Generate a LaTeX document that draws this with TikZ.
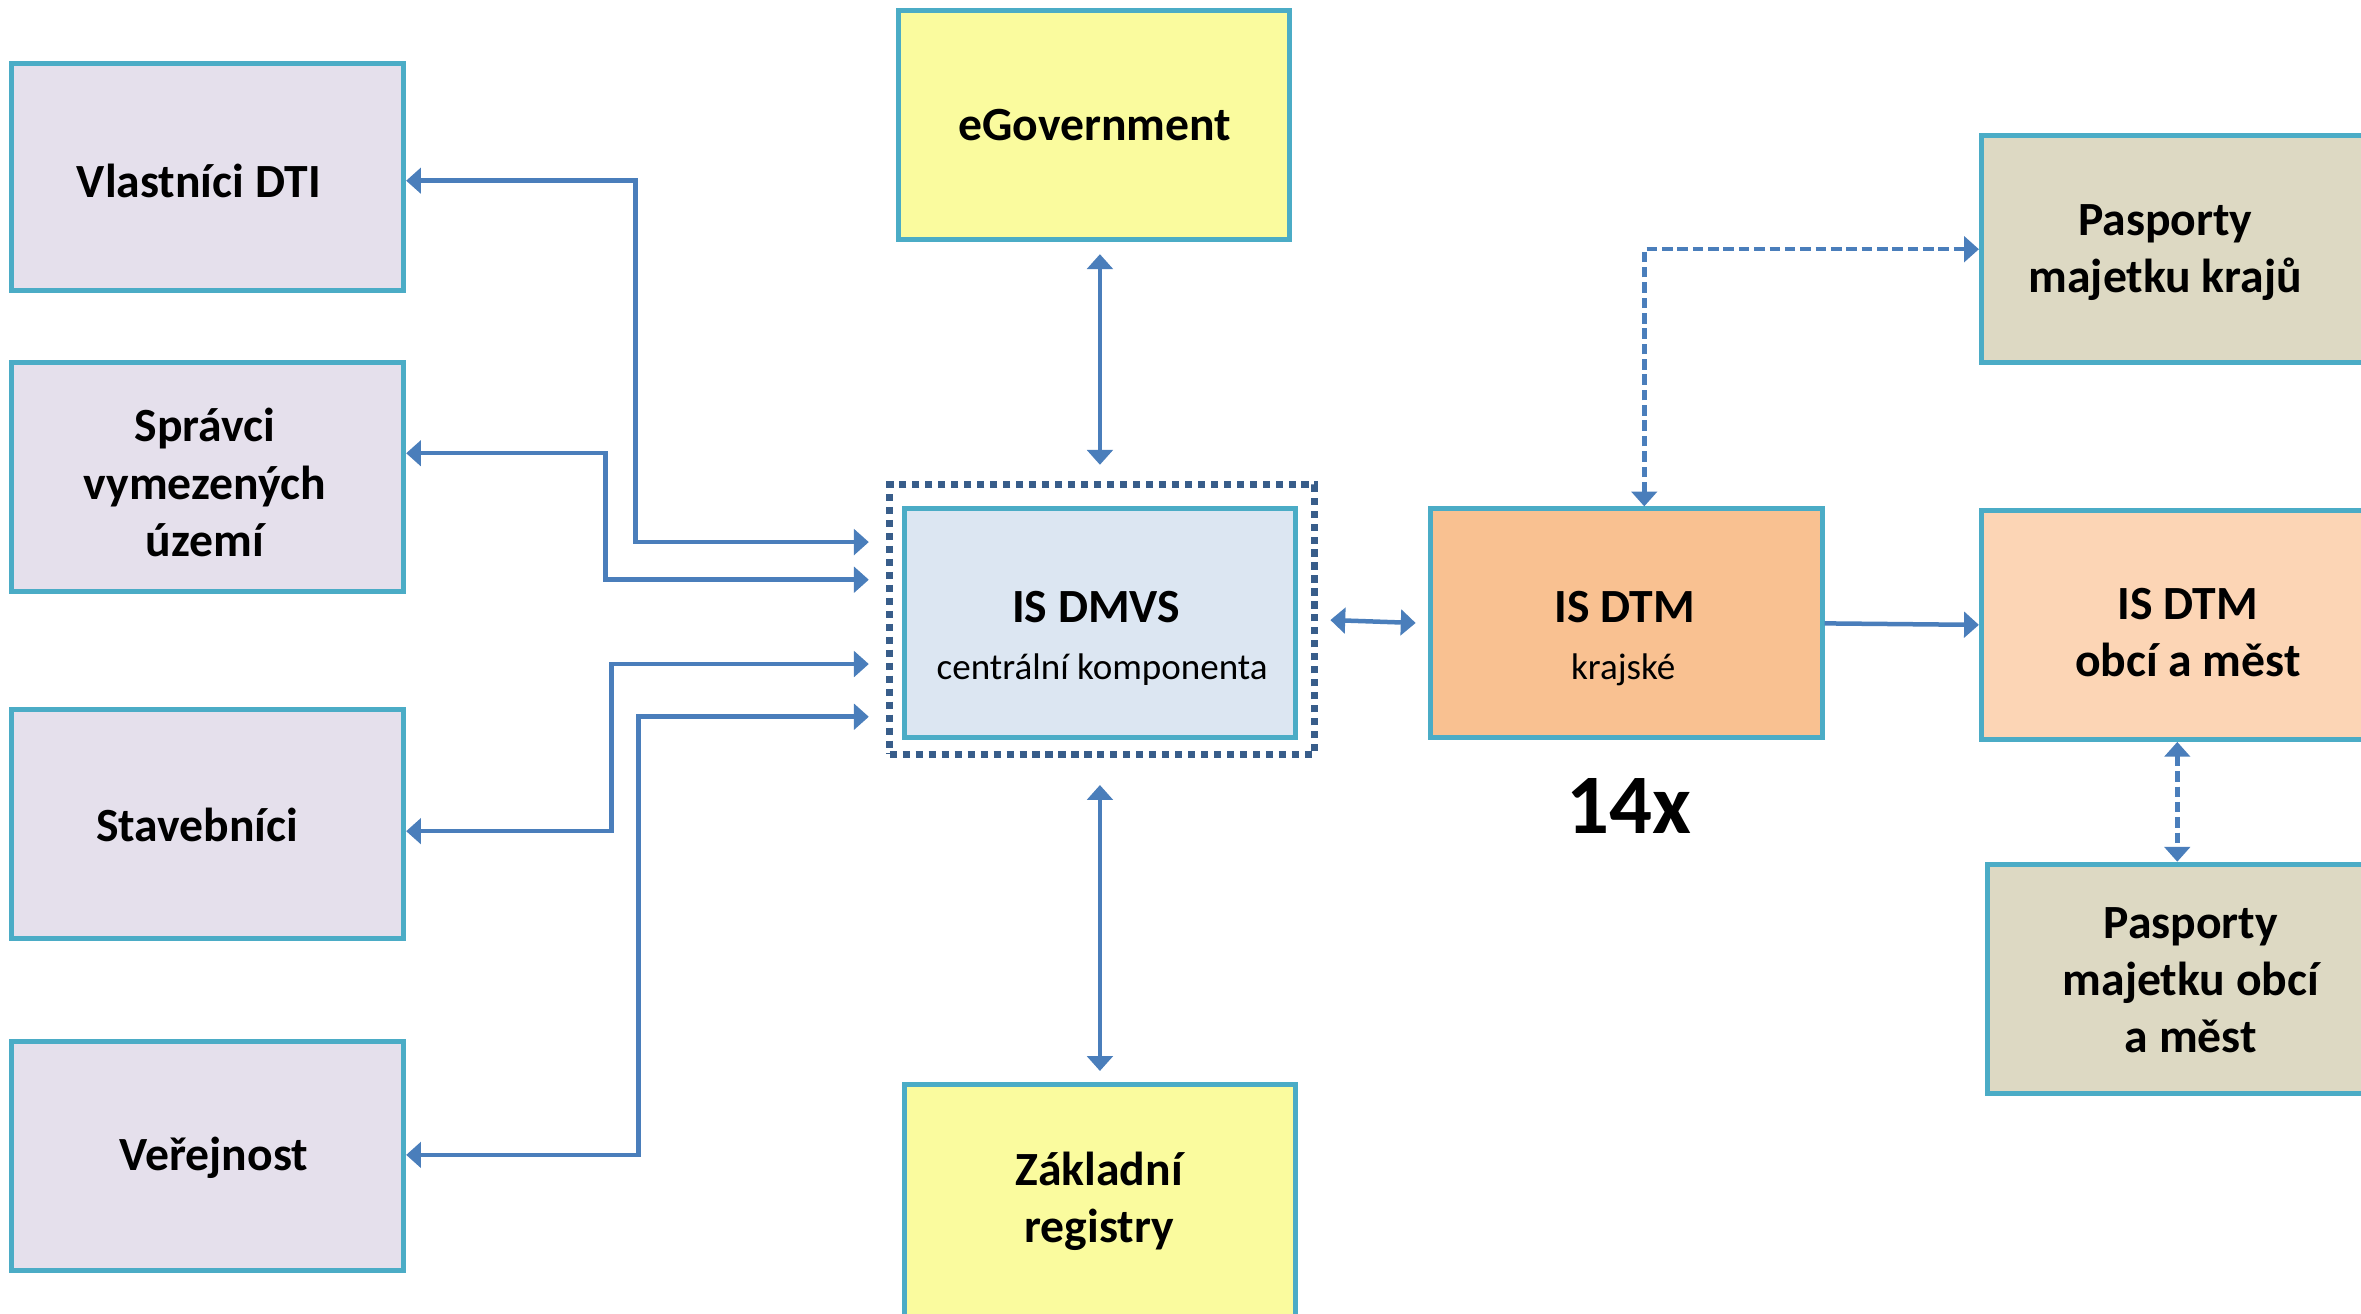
\documentclass[tikz,border=0pt]{standalone}
\usepackage{fontspec}
\setmainfont{Carlito}
\usetikzlibrary{arrows.meta}
\definecolor{bord}{HTML}{4BACC6}
\definecolor{lav}{HTML}{E5E0EC}
\definecolor{lblue}{HTML}{DCE6F2}
\definecolor{yel}{HTML}{FAFB9E}
\definecolor{orng}{HTML}{F9C191}
\definecolor{peach}{HTML}{FCD5B5}
\definecolor{tan}{HTML}{DDD9C3}
\definecolor{arr}{HTML}{4A7EBB}
\definecolor{dk}{HTML}{385D8A}
\tikzset{
  box/.style={draw=bord, line width=0.95pt, minimum width=2.6cm, minimum height=1.52cm, align=center, inner sep=0pt},
  ttl/.style={font=\fontsize{9}{10.8}\selectfont\bfseries, align=center, inner sep=0pt},
  sub/.style={font=\fontsize{7}{8.4}\selectfont, inner sep=0pt},
  conn/.style={draw=arr, line width=0.85pt, {Triangle[length=2.8pt,width=4.8pt]}-{Triangle[length=2.8pt,width=4.8pt]}},
  conn1/.style={draw=arr, line width=0.85pt, -{Triangle[length=2.8pt,width=4.8pt]}},
  dconn/.style={conn, dash pattern=on 2pt off 0.9pt},
}
\begin{document}
\begin{tikzpicture}[x=0.01cm,y=-0.01cm]
\clip (0,0) rectangle (1568,872);
\fill[white] (0,0) rectangle (1568,872);
% left boxes
\node[box, fill=lav, minimum height=1.51cm] (vl) at (138,117.5) {};
\node[ttl] (vlt) at (132,120) {Vlastníci DTI};
\node[box, fill=lav] (sp) at (138,317) {};
\node[ttl] (spt) at (136,320.5) {Správci\\vymezených\\území};
\node[box, fill=lav] (st) at (138,547) {};
\node[ttl] (stt) at (131,548) {Stavebníci};
\node[box, fill=lav] (ve) at (138,768) {};
\node[ttl] (vet) at (142,769) {Veřejnost};
% center column
\node[box, fill=yel, minimum width=2.59cm] (eg) at (726.5,83) {};
\node[ttl] (egt) at (727,83) {eGovernment};
\node[draw=dk, line width=1.35pt, dash pattern=on 1.35pt off 1.1pt, minimum width=2.82cm, minimum height=1.79cm, inner sep=0pt] (dmo) at (732,411.5) {};
\node[box, fill=lblue, minimum width=2.59cm] (dm) at (730.5,414) {};
\node[ttl] (dmt) at (728,403) {IS DMVS};
\node[sub] (dms) at (732,445) {centrální komponenta};
\node[box, fill=yel, minimum width=2.59cm, minimum height=1.54cm] (zr) at (730.5,797) {};
\node[ttl] (zrt) at (730,798) {Základní\\registry};
% DTM
\node[box, fill=orng] (dtm) at (1080,414) {};
\node[ttl] (dtmt) at (1079,403) {IS DTM};
\node[sub] (dtms) at (1078,445) {krajské};
\node[font=\fontsize{16}{19}\selectfont\bfseries, inner sep=0pt] (n14) at (1082,535) {14x};
% right boxes
\node[box, fill=tan, minimum height=1.51cm] (pk) at (1446,165.5) {};
\node[ttl] (pkt) at (1438,168) {Pasporty\\majetku krajů};
\node[box, fill=peach] (ob) at (1446,415) {};
\node[ttl] (obt) at (1453,420) {IS DTM\\obcí a měst};
\node[box, fill=tan] (po) at (1450,650) {};
\node[ttl] (pot) at (1455,651) {Pasporty\\majetku obcí\\a měst};
% coordinates
\coordinate (inA) at (577,360);
\coordinate (inB) at (577,385);
\coordinate (inC) at (577,441);
\coordinate (inD) at (577,476);
\coordinate (dx) at (1092,0);
\coordinate (dv) at (1446,0);
% connectors left
\draw[conn] (vl.east |- 0,120) -| (422,360) -- (inA);
\draw[conn] (sp.east |- 0,301) -| (402,385) -- (inB);
\draw[conn] (st.east |- 0,552) -| (406,441) -- (inC);
\draw[conn] (ve.east |- 0,767) -| (424,476) -- (inD);
% vertical
\draw[conn, shorten <=2.3pt, shorten >=3.1pt] (dm.north |- eg.south) -- (dm.north |- dmo.north);
\draw[conn, shorten <=5.1pt, shorten >=2pt] (dm.south |- dmo.south) -- (dm.south |- zr.north);
\draw[conn, shorten <=2.3pt, shorten >=2.3pt] (dmo.east) -- (dtm.west);
\draw[conn1] (dtm.east) -- (ob.west);
\draw[dconn] (dx |- dtm.north) -- (dx |- pk.west) -- (pk.west);
\draw[dconn] (dv |- ob.south) -- (dv |- po.north);
\end{tikzpicture}
\end{document}
